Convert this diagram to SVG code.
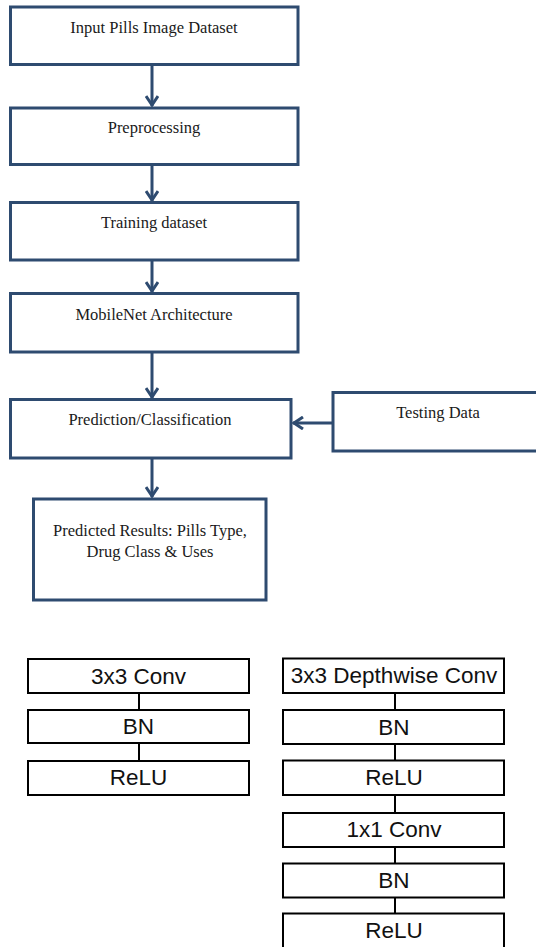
<svg xmlns="http://www.w3.org/2000/svg" width="536" height="947" viewBox="0 0 536 947">
<style>
.fb{fill:#fff;stroke:#2E4B70;stroke-width:3}
.ft{font-family:"Liberation Serif","Times New Roman",serif;font-size:16.5px;fill:#1a1a1a;text-anchor:middle}
.fc{stroke:#2E4B70;stroke-width:3;fill:none}
.bb{fill:#fff;stroke:#000;stroke-width:2}
.bt{font-family:"Liberation Sans",Arial,sans-serif;font-size:22.5px;fill:#111;text-anchor:middle}
.bc{stroke:#000;stroke-width:2;fill:none}
</style>
<defs>
<marker id="ah" viewBox="0 0 12 14" refX="11" refY="7" markerWidth="12" markerHeight="14" markerUnits="userSpaceOnUse" orient="auto">
<path d="M1,1 L10,7 L1,13" fill="none" stroke="#2E4B70" stroke-width="3"/>
</marker>
</defs>
<g id="connectors">
<path class="fc" d="M152,65 V106" marker-end="url(#ah)"/>
<path class="fc" d="M152,166 V201" marker-end="url(#ah)"/>
<path class="fc" d="M152,261 V292" marker-end="url(#ah)"/>
<path class="fc" d="M152,353 V398" marker-end="url(#ah)"/>
<path class="fc" d="M333,423 H293" marker-end="url(#ah)"/>
<path class="fc" d="M152,459 V497" marker-end="url(#ah)"/>
<path class="bc" d="M139,693 V710 M139,743 V761"/>
<path class="bc" d="M395,693 V710 M395,744 V760 M395,795 V813 M395,847 V863 M395,898 V913"/>
</g>
<g id="input"><rect class="fb" x="10.5" y="7" width="287.5" height="57.5"/><text class="ft" x="154" y="33">Input Pills Image Dataset</text></g>
<g id="preprocessing"><rect class="fb" x="10.5" y="108" width="287.5" height="56.5"/><text class="ft" x="154" y="133">Preprocessing</text></g>
<g id="training"><rect class="fb" x="10.5" y="202.5" width="287.5" height="57.5"/><text class="ft" x="154" y="228">Training dataset</text></g>
<g id="mobilenet"><rect class="fb" x="10.5" y="293.5" width="287.5" height="58.5"/><text class="ft" x="154" y="320">MobileNet Architecture</text></g>
<g id="prediction"><rect class="fb" x="10.5" y="399.5" width="280.5" height="58.5"/><text class="ft" x="150" y="425">Prediction/Classification</text></g>
<g id="testing"><rect class="fb" x="333" y="392.5" width="215" height="58.5"/><text class="ft" x="438" y="418">Testing Data</text></g>
<g id="results"><rect class="fb" x="33.5" y="499" width="232.5" height="101"/><text class="ft" x="150" y="536">Predicted Results: Pills Type,</text><text class="ft" x="150" y="557">Drug Class &amp; Uses</text></g>
<g id="conv3x3"><rect class="bb" x="28" y="659" width="221" height="34"/><text class="bt" x="138.5" y="683.5">3x3 Conv</text></g>
<g id="bn-left"><rect class="bb" x="28" y="710" width="221" height="33"/><text class="bt" x="138.5" y="734">BN</text></g>
<g id="relu-left"><rect class="bb" x="28" y="761" width="221" height="34"/><text class="bt" x="138.5" y="785">ReLU</text></g>
<g id="dwconv"><rect class="bb" x="283" y="658.5" width="221" height="34.5"/><text class="bt" x="394" y="683">3x3 Depthwise Conv</text></g>
<g id="bn-r1"><rect class="bb" x="283" y="710" width="221" height="34"/><text class="bt" x="394" y="734.5">BN</text></g>
<g id="relu-r1"><rect class="bb" x="283" y="760.5" width="221" height="34.5"/><text class="bt" x="394" y="785">ReLU</text></g>
<g id="conv1x1"><rect class="bb" x="283" y="813" width="221" height="34"/><text class="bt" x="394" y="837">1x1 Conv</text></g>
<g id="bn-r2"><rect class="bb" x="283" y="863.5" width="221" height="34"/><text class="bt" x="394" y="888">BN</text></g>
<g id="relu-r2"><rect class="bb" x="283" y="913.5" width="221" height="40"/><text class="bt" x="394" y="938">ReLU</text></g>
</svg>
